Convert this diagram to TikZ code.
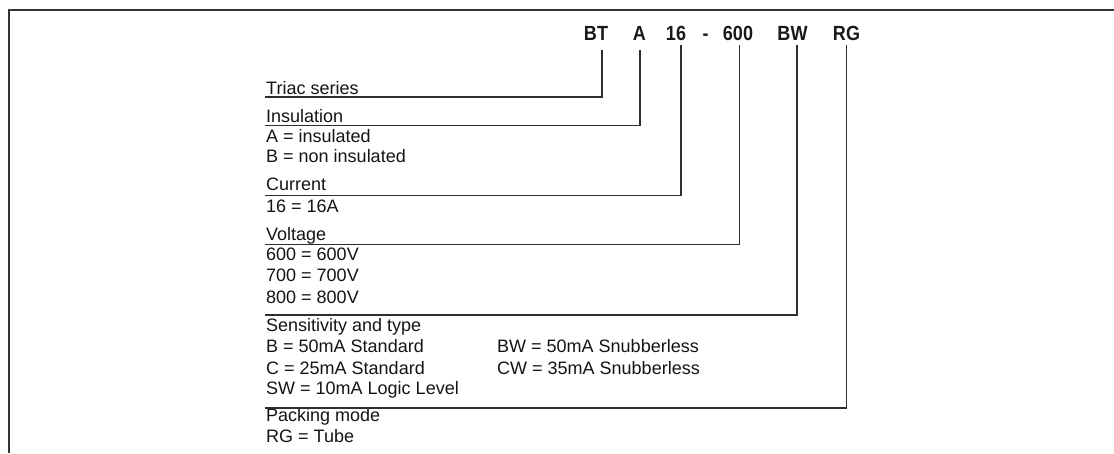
\documentclass[tikz,border=0pt]{standalone}
\usepackage{fontspec}
\setmainfont{Liberation Sans}

\begin{document}
\begin{tikzpicture}[x=1pt,y=-1pt]
	\tikzstyle{every node}+=[inner sep=0pt]
	\tikzstyle{lbl}=[anchor=base west,font=\fontsize{18}{20}\selectfont,text=black!92]
	\tikzstyle{code}=[anchor=base,xscale=0.88,font=\fontsize{20.5}{22}\selectfont\bfseries,text=black!90]
	\tikzstyle{lead}=[draw=black!82,line width=1.1pt]
	\useasboundingbox (0,0) rectangle (1114,453);
	\draw [black!80,line width=1.5pt] (1114,10) -- (9,10) -- (9,453);
	\draw (596,40) node [code] (bt) {BT};
	\draw (639.5,40) node [code] (a) {A};
	\draw (676,40) node [code] (cur) {16};
	\draw (705.5,40) node [code] (dash) {-};
	\draw (738,40) node [code] (volt) {600};
	\draw (792.5,40) node [code] (bw) {BW};
	\draw (846.5,40) node [code] (rg) {RG};
	\coordinate (tbt) at (602,50);
	\coordinate (ta) at (640,50);
	\coordinate (tcur) at (681,45);
	\coordinate (tvolt) at (739.5,45);
	\coordinate (tbw) at (797,45);
	\coordinate (trg) at (846.5,45);
	\draw (266,94) node [lbl] (triac) {Triac series};
	\coordinate (etriac) at (265,97);
	\draw [lead] (tbt) |- (etriac);
	\draw (266,122.7) node [lbl] (ins) {Insulation};
	\coordinate (eins) at (265,125.5);
	\draw [lead] (ta) |- (eins);
	\draw (266,142.7) node [lbl] (insa) {A = insulated};
	\draw (266,162.7) node [lbl] (insb) {B = non insulated};
	\draw (266,190.7) node [lbl] (curr) {Current};
	\coordinate (ecurr) at (265,195.5);
	\draw [lead] (tcur) |- (ecurr);
	\draw (266,212.7) node [lbl] (cura) {16 = 16A};
	\draw (266,240) node [lbl] (vlt) {Voltage};
	\coordinate (evlt) at (265,244.5);
	\draw [lead] (tvolt) |- (evlt);
	\draw (266,260.7) node [lbl] (vlta) {600 = 600V};
	\draw (266,281.7) node [lbl] (vltb) {700 = 700V};
	\draw (266,303.3) node [lbl] (vltc) {800 = 800V};
	\draw (266,331.7) node [lbl] (sens) {Sensitivity and type};
	\coordinate (esens) at (265,315);
	\draw [lead] (tbw) |- (esens);
	\draw (266,352.7) node [lbl] (sensb) {B = 50mA Standard};
	\draw (266,374) node [lbl] (sensc) {C = 25mA Standard};
	\draw (266,394.3) node [lbl] (senssw) {SW = 10mA Logic Level};
	\draw (497,352.7) node [lbl] (sensbw) {BW = 50mA Snubberless};
	\draw (497,374) node [lbl] (senscw) {CW = 35mA Snubberless};
	\draw (266,421.7) node [lbl] (pack) {Packing mode};
	\coordinate (epack) at (265,408);
	\draw [lead] (trg) |- (epack);
	\draw (266,442.7) node [lbl] (packrg) {RG = Tube};
\end{tikzpicture}
\end{document}
